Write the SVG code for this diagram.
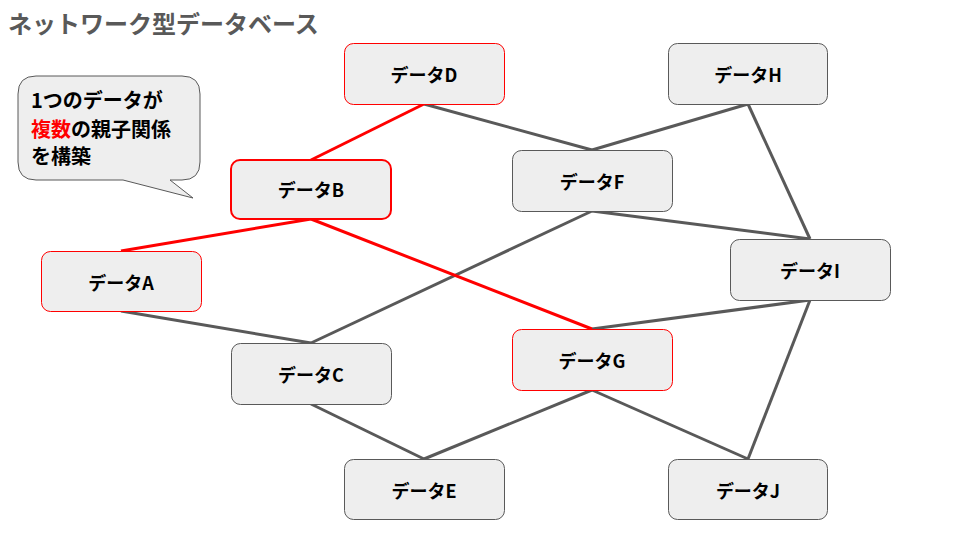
<svg xmlns="http://www.w3.org/2000/svg" width="960" height="540" viewBox="0 0 960 540">
<style>
.box{fill:#eeeeee;stroke:#595959;stroke-width:1}
.red{fill:#eeeeee;stroke:#ff0000;stroke-width:1}
.redb{fill:#eeeeee;stroke:#ff0000;stroke-width:2}
.lbl{font-family:"Noto Sans CJK JP","Noto Sans",sans-serif;font-weight:bold;font-size:18px;fill:#000;text-anchor:middle;dominant-baseline:central}
.g{stroke:#595959;stroke-width:3;fill:none}
.r{stroke:#ff0000;stroke-width:3;fill:none}
.call{font-family:"Noto Sans CJK JP","Noto Sans",sans-serif;font-weight:bold;font-size:20px;fill:#000}
</style>
<rect width="960" height="540" fill="#ffffff"/>
<text x="8" y="33" font-family="'Noto Sans CJK JP','Noto Sans',sans-serif" font-weight="bold" font-size="24" fill="#595959">ネットワーク型データベース</text>
<g id="connectors">
<line class="g" x1="424" y1="104" x2="592" y2="150"/>
<line class="g" x1="748" y1="104" x2="592" y2="150"/>
<line class="g" x1="748" y1="104" x2="810" y2="239"/>
<line class="g" x1="592" y1="211" x2="810" y2="239"/>
<line class="g" x1="592" y1="211" x2="311" y2="343"/>
<line class="g" x1="121" y1="311" x2="311" y2="343"/>
<line class="g" x1="810" y1="300" x2="592" y2="329"/>
<line class="g" x1="810" y1="300" x2="748" y2="459"/>
<line class="g" x1="311" y1="404" x2="424" y2="459"/>
<line class="g" x1="592" y1="390" x2="424" y2="459"/>
<line class="g" x1="592" y1="390" x2="748" y2="459"/>
<line class="r" x1="424" y1="104" x2="311" y2="160"/>
<line class="r" x1="311" y1="219" x2="121" y2="251"/>
<line class="r" x1="311" y1="219" x2="592" y2="329"/>
</g>
<g id="callout">
<path d="M36,76 H182 Q200,76 200,94 V162 Q200,180 182,180 H170 L193,198 L123,180 H36 Q18,180 18,162 V94 Q18,76 36,76 Z" fill="#eeeeee" stroke="#595959" stroke-width="1"/>
<text class="call" x="31" y="108">1つのデータが</text>
<text class="call" x="31" y="137"><tspan fill="#ff0000">複数</tspan>の親子関係</text>
<text class="call" x="31" y="164">を構築</text>
</g>
<g id="nodeD"><rect class="red" x="344.5" y="43.5" width="160" height="61" rx="9"/><text class="lbl" x="424" y="74">データD</text></g>
<g id="nodeH"><rect class="box" x="668.5" y="43.5" width="159" height="61" rx="9"/><text class="lbl" x="748" y="74">データH</text></g>
<g id="nodeB"><rect class="redb" x="231" y="160" width="160" height="59" rx="9"/><text class="lbl" x="311" y="189">データB</text></g>
<g id="nodeF"><rect class="box" x="512.5" y="150.5" width="160" height="61" rx="9"/><text class="lbl" x="592" y="181">データF</text></g>
<g id="nodeA"><rect class="red" x="41.5" y="251.5" width="160" height="60" rx="9"/><text class="lbl" x="121" y="282">データA</text></g>
<g id="nodeI"><rect class="box" x="730.5" y="239.5" width="160" height="61" rx="9"/><text class="lbl" x="810" y="270">データI</text></g>
<g id="nodeC"><rect class="box" x="231.5" y="343.5" width="160" height="61" rx="9"/><text class="lbl" x="311" y="374">データC</text></g>
<g id="nodeG"><rect class="red" x="512.5" y="329.5" width="160" height="61" rx="9"/><text class="lbl" x="592" y="360">データG</text></g>
<g id="nodeE"><rect class="box" x="344.5" y="459.5" width="160" height="60" rx="9"/><text class="lbl" x="424" y="490">データE</text></g>
<g id="nodeJ"><rect class="box" x="668.5" y="459.5" width="159" height="60" rx="9"/><text class="lbl" x="748" y="490">データJ</text></g>
</svg>
